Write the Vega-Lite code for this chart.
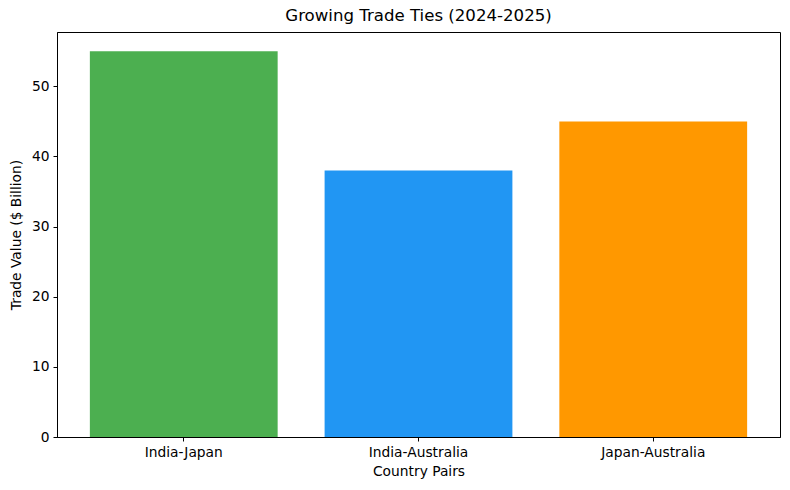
{
  "$schema": "https://vega.github.io/schema/vega-lite/v6.json",
  "autosize": {"type": "none"},
  "width": 723,
  "height": 405,
  "padding": {"left": 57, "top": 32, "right": 10, "bottom": 53},
  "background": "white",
  "title": {
    "text": "Growing Trade Ties (2024-2025)",
    "font": "DejaVu Sans",
    "fontSize": 16.6,
    "fontWeight": "normal",
    "color": "black",
    "offset": 7
  },
  "config": {
    "view": {"stroke": "black", "strokeWidth": 1},
    "axis": {
      "labelFont": "DejaVu Sans",
      "titleFont": "DejaVu Sans",
      "labelFontSize": 13.8,
      "titleFontSize": 13.8,
      "titleFontWeight": "normal",
      "labelColor": "black",
      "titleColor": "black",
      "tickColor": "black",
      "domainColor": "black",
      "tickSize": 4,
      "labelPadding": 4,
      "grid": false
    }
  },
  "data": {
    "values": [
      {"pair": "India-Japan", "value": 55},
      {"pair": "India-Australia", "value": 38},
      {"pair": "Japan-Australia", "value": 45}
    ]
  },
  "mark": {"type": "bar"},
  "encoding": {
    "x": {
      "field": "pair",
      "type": "nominal",
      "sort": null,
      "title": "Country Pairs",
      "scale": {"paddingInner": 0.2, "paddingOuter": 0.14},
      "axis": {"labelAngle": 0, "titlePadding": 6}
    },
    "y": {
      "field": "value",
      "type": "quantitative",
      "title": "Trade Value ($ Billion)",
      "scale": {"domain": [0, 57.75], "nice": false},
      "axis": {"values": [0, 10, 20, 30, 40, 50], "titlePadding": 8}
    },
    "color": {
      "field": "pair",
      "type": "nominal",
      "sort": null,
      "scale": {
        "domain": ["India-Japan", "India-Australia", "Japan-Australia"],
        "range": ["#4CAF50", "#2196F3", "#FF9800"]
      },
      "legend": null
    }
  }
}
